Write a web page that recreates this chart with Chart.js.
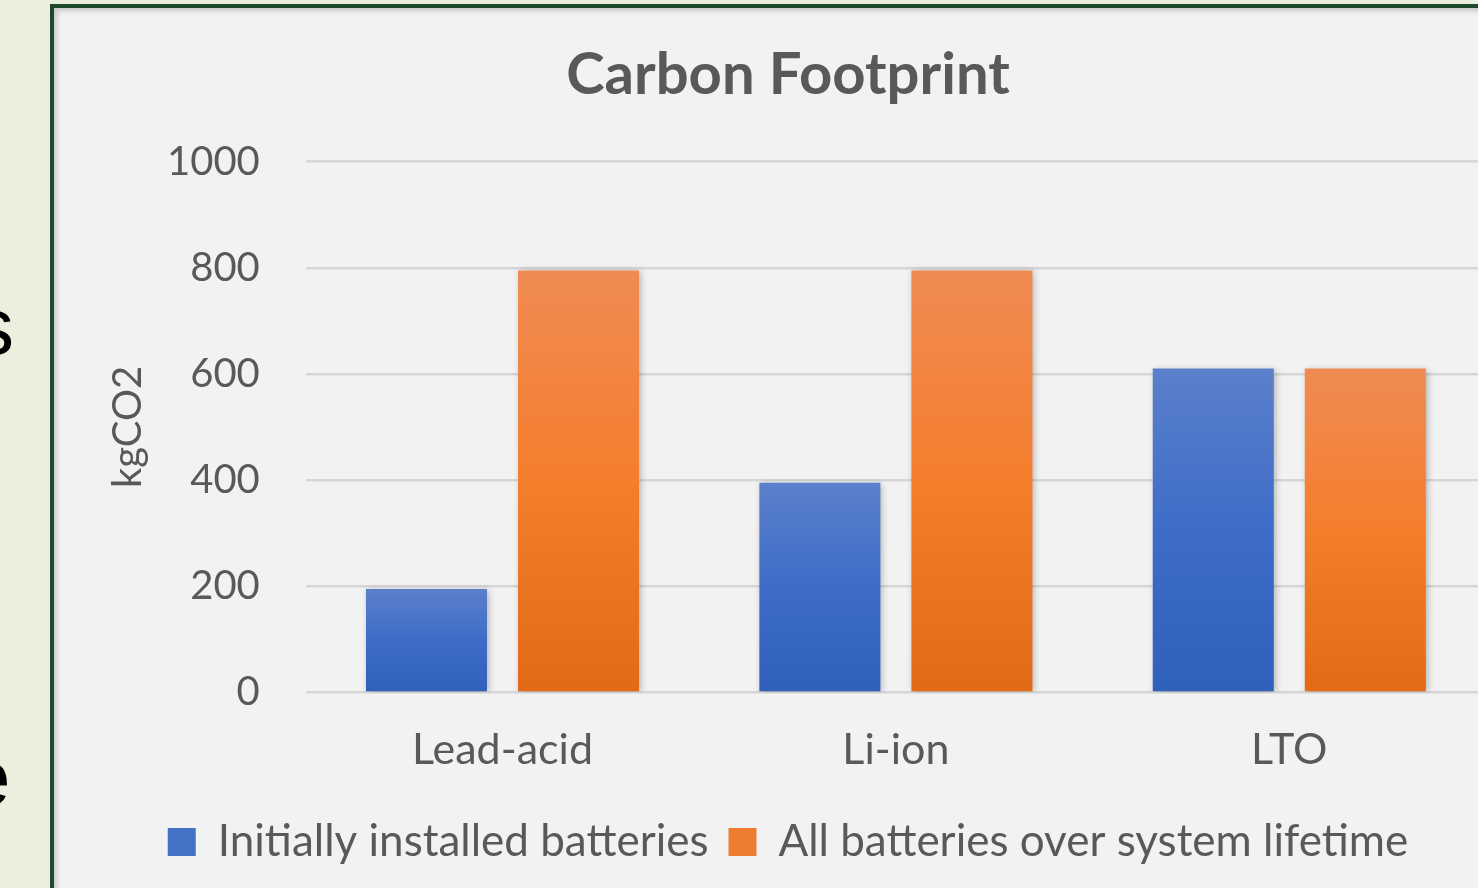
<!DOCTYPE html>
<html>
    <head>
        <title>Carbon Footprint</title>
        <style>
            html, body { margin: 0; padding: 0; }
            body {
                width: 1478px;
                height: 888px;
                overflow: hidden;
                position: relative;
                background: #ebefde;
                font-family: "Liberation Sans", Arial, sans-serif;
            }
            .slide-text {
                position: absolute;
                font-size: 80px;
                color: #000;
                line-height: 1;
            }
            #frame {
                position: absolute;
                left: 50px;
                top: 4px;
                width: 1500px;
                height: 960px;
                background: #f2f2f2;
                border-left: 4px solid #1d4a2c;
                border-top: 4px solid #1d4a2c;
                box-shadow: inset 3px 3px 5px rgba(0,0,0,0.18);
            }
            #wrap {
                position: absolute;
                left: 54px;
                top: 8px;
                width: 1472px;
                height: 866px;
            }
        </style>
    </head>
    <body>
        <div class="slide-text" style="left: -26px; top: 287px;">s</div>
        <div class="slide-text" style="left: -34px; top: 738px;">e</div>
        <div id="frame"></div>
        <script src="https://cdn.jsdelivr.net/npm/chart.js"></script>
        <div id="wrap">
            <canvas id="myChart"></canvas>
        </div>
        <script>
            // values
            const batteryTypes = ['Lead-acid', 'Li-ion', 'LTO'];
            const initialBatteries = [195, 395, 610];
            const lifetimeBatteries = [795, 795, 610];
            const seriesNames = ['Initially installed batteries', 'All batteries over system lifetime'];
            const yTicks = [0, 200, 400, 600, 800, 1000];

            const textGray = '#595959';
            const fontName = 'Lato, "Open Sans", sans-serif';

            // vertical gradient per bar, like the Excel fill
            function barGradient(context, stops) {
                const chart = context.chart;
                const area = chart.chartArea;
                if (!area || context.raw === undefined) return stops[1];
                const yScale = chart.scales.y;
                const top = yScale.getPixelForValue(context.raw);
                const bottom = yScale.getPixelForValue(0);
                const g = chart.ctx.createLinearGradient(0, top, 0, bottom);
                g.addColorStop(0, stops[0]);
                g.addColorStop(0.5, stops[1]);
                g.addColorStop(1, stops[2]);
                return g;
            }
            const blueStops = ['#5b80cb', '#3e6cc8', '#2f60bb'];
            const orangeStops = ['#f08b54', '#f47e2c', '#e26a17'];

            const barShadow = {
                id: 'barShadow',
                beforeDatasetsDraw(chart) {
                    const ctx = chart.ctx;
                    ctx.save();
                    ctx.shadowColor = 'rgba(0,0,0,0.28)';
                    ctx.shadowBlur = 7;
                    ctx.shadowOffsetX = 2;
                    ctx.shadowOffsetY = 1;
                },
                afterDatasetsDraw(chart) {
                    chart.ctx.restore();
                }
            };

            const ctx = document.getElementById('myChart').getContext('2d');

            const myChart = new Chart(ctx, {
                type: 'bar',
                data: {
                    labels: batteryTypes,
                    datasets: [{
                        label: seriesNames[0],
                        data: initialBatteries,
                        backgroundColor: (c) => barGradient(c, blueStops),
                        borderWidth: 0,
                        categoryPercentage: 0.773,
                        barPercentage: 0.796,
                    }, {
                        label: seriesNames[1],
                        data: lifetimeBatteries,
                        backgroundColor: (c) => barGradient(c, orangeStops),
                        borderWidth: 0,
                        categoryPercentage: 0.773,
                        barPercentage: 0.796,
                    }]
                },
                plugins: [barShadow],
                options: {
                    responsive: true,
                    maintainAspectRatio: false,
                    animation: false,
                    layout: {
                        padding: { left: 36, right: 40, top: 0, bottom: 0 }
                    },
                    plugins: {
                        tooltip: { enabled: false },
                        title: {
                            display: true,
                            text: 'Carbon Footprint',
                            color: textGray,
                            font: { family: fontName, size: 58, weight: 'bold' },
                            padding: { top: 32, bottom: 52 },
                        },
                        legend: {
                            display: true,
                            position: 'bottom',
                            labels: {
                                color: textGray,
                                font: { family: fontName, size: 44 },
                                boxWidth: 28,
                                boxHeight: 28,
                                padding: 20,
                                generateLabels(chart) {
                                    return chart.data.datasets.map((ds, i) => ({
                                        text: ds.label,
                                        fillStyle: i === 0 ? '#4472c4' : '#ed7d31',
                                        strokeStyle: 'rgba(0,0,0,0)',
                                        lineWidth: 0,
                                        fontColor: textGray,
                                        datasetIndex: i,
                                    }));
                                }
                            }
                        }
                    },
                    scales: {
                        x: {
                            grid: { display: false },
                            border: { display: false },
                            ticks: {
                                color: textGray,
                                font: { family: fontName, size: 43 },
                                padding: 24,
                            }
                        },
                        y: {
                            min: 0,
                            max: 1000,
                            afterBuildTicks(axis) {
                                axis.ticks = yTicks.map(v => ({ value: v }));
                            },
                            grid: {
                                color: '#d6d6d6',
                                lineWidth: 2.5,
                                drawTicks: false,
                            },
                            border: { display: false },
                            ticks: {
                                color: textGray,
                                font: { family: fontName, size: 40 },
                                padding: 46,
                                callback: (v) => String(v),
                            },
                            title: {
                                display: true,
                                text: 'kgCO2',
                                color: textGray,
                                font: { family: fontName, size: 40 },
                                padding: { top: 14, bottom: -31 },
                            }
                        }
                    }
                }
            });
        </script>
    </body>
</html>
